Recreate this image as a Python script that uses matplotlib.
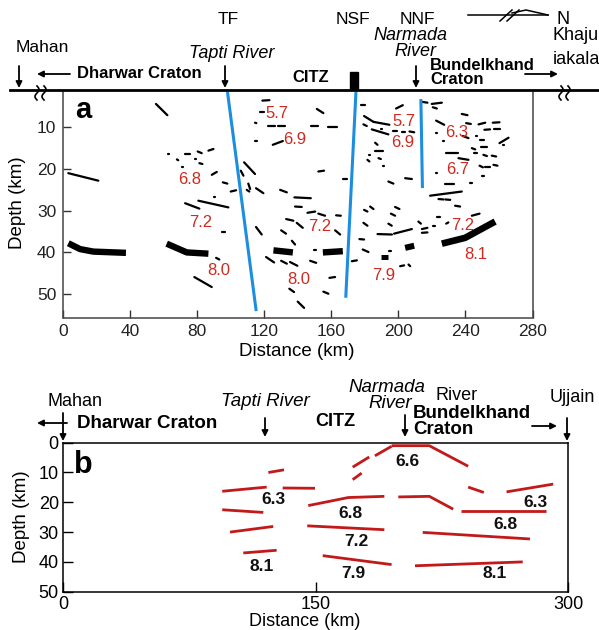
import matplotlib
matplotlib.use('Agg')
import matplotlib.pyplot as plt
from matplotlib.lines import Line2D
from matplotlib.patches import Rectangle, FancyArrowPatch
import numpy as np

plt.rcParams['font.family'] = ['Liberation Sans', 'DejaVu Sans']

# ---------------- data: panel a ----------------
a_xticks = [0, 40, 80, 120, 160, 200, 240, 280]
a_yticks = [10, 20, 30, 40, 50]

fault_top_x = [98.1, 174.6, 213.4]
fault_top_d = [1.9, 1.9, 3.6]
fault_bot_x = [115.0, 168.6, 214.3]
fault_bot_d = [53.7, 50.5, 24.2]

a_vel_labels = ['5.7', '6.9', '6.8', '7.2', '8.0', '8.0', '7.2',
                '5.7', '6.9', '6.3', '6.7', '7.2', '8.1', '7.9']
a_vel_x = [127.4, 138.3, 75.2, 82.0, 92.5, 140.3, 153.3,
           203.4, 202.6, 234.9, 235.2, 238.4, 246.4, 191.0]
a_vel_d = [6.8, 13.0, 22.4, 32.8, 44.3, 46.5, 33.8,
           8.7, 13.7, 11.3, 20.0, 33.6, 40.5, 45.5]

# thin reflector segments (x1, d1, x2, d2) in km
a_reflectors = [
    (55.3, 4.4, 62.1, 7.1), (3.0, 21.0, 20.9, 22.8), (118.8, 3.6, 123.0, 3.5),
    (117.4, 6.3, 119.8, 6.3), (151.3, 5.6, 155.2, 6.6), (114.4, 8.9, 115.2, 9.0),
    (122.4, 9.6, 126.4, 9.6), (128.4, 9.6, 132.4, 9.6), (147.7, 9.6, 151.7, 9.6),
    (158.2, 10.0, 163.2, 10.0), (114.6, 13.3, 115.4, 13.3), (125.0, 14.2, 131.0, 13.3),
    (62.3, 16.4, 63.1, 16.4), (72.7, 16.4, 75.6, 16.4), (80.2, 15.8, 82.6, 16.2),
    (86.6, 15.6, 89.6, 15.2), (67.8, 17.7, 68.6, 17.9), (78.5, 17.6, 79.3, 17.6),
    (81.2, 18.6, 83.0, 18.8), (70.9, 19.6, 71.7, 19.6), (88.6, 21.4, 91.6, 20.7),
    (95.2, 23.2, 97.9, 23.5), (107.9, 18.4, 114.4, 21.2), (105.9, 20.4, 107.5, 21.6),
    (110.4, 23.5, 111.5, 24.8), (109.5, 25.0, 111.0, 25.4), (115.0, 24.6, 119.4, 25.8),
    (99.9, 25.4, 103.1, 25.1), (129.4, 25.0, 133.4, 25.6), (137.9, 26.8, 147.7, 27.0),
    (89.7, 26.8, 90.5, 26.8), (152.2, 20.6, 155.6, 20.4), (166.8, 22.4, 169.2, 22.4),
    (72.7, 28.2, 81.2, 29.5), (80.6, 27.6, 98.5, 29.2), (138.3, 29.0, 142.3, 29.1),
    (94.6, 35.1, 96.6, 35.1), (115.0, 33.9, 118.4, 35.7), (91.2, 41.3, 93.1, 41.7),
    (78.2, 45.9, 88.6, 48.3), (121.0, 41.1, 125.8, 42.4), (130.0, 42.0, 133.4, 42.7),
    (135.3, 42.3, 139.7, 43.2), (130.0, 34.7, 132.9, 35.5), (136.4, 37.2, 138.3, 38.1),
    (133.0, 32.0, 137.3, 32.4), (139.3, 32.9, 142.9, 34.1), (145.7, 30.5, 150.3, 30.2),
    (152.2, 30.7, 156.2, 31.2), (162.8, 31.1, 165.6, 31.2), (162.2, 34.7, 165.2, 35.7),
    (147.3, 42.0, 150.9, 42.5), (149.9, 39.3, 150.7, 39.3), (158.8, 46.1, 162.2, 45.9),
    (134.9, 48.7, 137.7, 49.5), (155.2, 49.4, 158.2, 49.9), (139.9, 51.8, 143.7, 53.3),
    (177.5, 4.7, 180.1, 4.7), (198.6, 5.5, 202.6, 4.7), (179.5, 7.3, 185.1, 8.7),
    (185.1, 8.7, 194.6, 9.4), (179.1, 9.3, 181.1, 9.7), (184.1, 10.5, 194.0, 11.7),
    (189.3, 10.3, 190.1, 10.3), (197.0, 11.0, 199.4, 11.0), (202.0, 11.2, 204.0, 11.2),
    (206.6, 11.0, 209.4, 11.2), (214.0, 3.9, 217.3, 4.1), (219.9, 4.4, 225.9, 4.1),
    (220.5, 5.2, 222.9, 5.5), (237.8, 6.8, 241.2, 7.1), (222.5, 8.4, 227.3, 9.4),
    (240.4, 9.0, 243.2, 9.2), (247.8, 9.3, 251.8, 8.9), (256.3, 8.9, 260.3, 8.8),
    (222.5, 11.3, 223.3, 11.3), (238.4, 12.1, 241.8, 12.6), (251.3, 10.6, 254.7, 10.5),
    (257.3, 10.5, 260.7, 10.5), (246.0, 12.1, 246.8, 12.1), (248.8, 13.0, 251.2, 13.0),
    (260.3, 13.8, 265.7, 12.5), (226.5, 13.4, 227.3, 13.4), (243.8, 15.0, 245.8, 15.3),
    (249.4, 14.8, 252.8, 14.8), (262.3, 14.2, 263.1, 14.2), (228.5, 16.2, 235.8, 16.2),
    (235.8, 17.4, 241.8, 17.8), (244.8, 16.2, 246.8, 16.2), (250.7, 16.6, 252.8, 16.9),
    (255.7, 16.8, 258.3, 17.0), (248.4, 19.2, 250.4, 19.6), (251.8, 19.6, 254.7, 19.6),
    (256.7, 19.0, 259.1, 19.2), (250.0, 21.6, 250.8, 21.6), (222.5, 21.0, 223.3, 21.0),
    (242.8, 23.4, 243.6, 23.4), (227.9, 23.6, 233.3, 23.6), (218.9, 26.4, 237.8, 25.4),
    (223.9, 27.2, 226.9, 27.3), (228.0, 27.3, 230.9, 27.4), (233.8, 28.8, 236.8, 29.0),
    (186.1, 13.7, 187.5, 14.2), (186.1, 15.7, 190.7, 15.7), (182.3, 16.6, 183.1, 16.6),
    (181.5, 17.8, 182.7, 18.2), (188.1, 17.4, 189.5, 17.6), (190.6, 19.2, 191.4, 19.2),
    (194.0, 23.0, 197.0, 23.5), (204.0, 22.2, 208.0, 22.4), (183.1, 29.0, 185.1, 29.6),
    (198.0, 29.1, 200.6, 29.6), (179.5, 29.8, 181.5, 30.2), (195.5, 30.7, 198.0, 31.2),
    (179.1, 32.9, 181.5, 33.6), (194.0, 33.1, 196.0, 33.6), (187.5, 35.6, 196.1, 35.7),
    (197.4, 35.5, 208.0, 34.4), (211.9, 32.6, 213.4, 33.1), (214.0, 34.4, 217.3, 34.1),
    (214.0, 35.3, 217.3, 35.2), (220.5, 33.6, 221.9, 33.6), (222.9, 31.5, 224.9, 31.5),
    (228.5, 33.1, 229.8, 32.8), (243.8, 31.2, 248.4, 30.7), (176.7, 36.8, 179.5, 36.9),
    (178.7, 39.3, 182.1, 39.9), (194.6, 39.7, 195.4, 39.7), (172.2, 42.1, 175.2, 41.9),
    (201.0, 43.3, 203.4, 43.1), (206.0, 42.9, 207.0, 43.3),
]

# thick Moho reflectors
moho_x = [[3.0, 10.0, 17.9, 37.4], [61.7, 73.7, 86.6], [125.4, 137.0],
          [154.9, 166.8], [189.5, 194.0], [204.0, 209.4], [225.9, 239.8, 257.7]]
moho_d = [[37.8, 39.2, 39.8, 40.1], [37.9, 40.0, 40.3], [39.5, 40.0],
          [40.0, 39.7], [41.0, 41.0], [38.9, 38.4], [37.9, 36.5, 32.6]]
moho_w = [4.6, 4.6, 4.6, 4.6, 3.6, 4.4, 4.8]

# ---------------- data: panel b ----------------
b_xticks = [0, 150, 300]
b_yticks = [0, 10, 20, 30, 40, 50]

b_lines_x = [
    [122.0, 131.3], [94.6, 121.0], [130.5, 149.7], [94.6, 119.0], [99.2, 124.9],
    [107.1, 126.9], [172.1, 177.4], [172.1, 181.9], [185.3, 195.2],
    [195.2, 217.6, 240.7], [240.7, 250.0], [263.5, 291.2],
    [145.7, 169.5, 190.9], [199.2, 217.6, 231.8], [236.2, 286.9],
    [145.1, 190.9], [213.7, 277.4], [154.3, 195.2], [209.1, 273.1],
]
b_lines_d = [
    [10.0, 9.1], [16.3, 14.9], [15.2, 15.3], [22.5, 23.4], [30.0, 28.1],
    [37.0, 36.1], [12.4, 10.2], [8.2, 4.8], [4.4, 1.2],
    [1.0, 1.0, 7.9], [14.9, 16.7], [16.5, 13.9],
    [21.1, 18.4, 18.0], [18.2, 18.0, 22.3], [23.0, 23.0],
    [27.9, 29.2], [30.1, 32.3], [37.9, 40.9], [41.3, 40.0],
]
b_vel_labels = ['6.3', '8.1', '6.6', '6.8', '7.2', '7.9', '6.3', '6.8', '8.1']
b_vel_x = [124.9, 118.0, 204.5, 170.9, 174.4, 172.4, 280.4, 263.1, 256.6]
b_vel_d = [19.1, 41.5, 6.3, 23.6, 33.1, 44.0, 20.0, 27.5, 44.0]

# ---------------- figure ----------------
W, H = 599, 630
fig = plt.figure(figsize=(W / 100, H / 100), dpi=100)

RED_TXT = '#cf2a1f'
RED_LN = '#c21a1a'
BLUE = '#1c8ee0'


def F(px, py):
    return (px / W, 1 - py / H)


def ftext(px, py, s, **kw):
    kw.setdefault('ha', 'center')
    kw.setdefault('va', 'center')
    fig.text(px / W, 1 - py / H, s, **kw)


def farrow(x0, y0, x1, y1):
    fig.add_artist(FancyArrowPatch(F(x0, y0), F(x1, y1), transform=fig.transFigure,
                                   arrowstyle='-|>', mutation_scale=9, lw=1.3,
                                   color='black', shrinkA=0, shrinkB=0))


def fline(xs, ys, **kw):
    xs = np.asarray(xs, float)
    ys = np.asarray(ys, float)
    fig.add_artist(Line2D(xs / W, 1 - ys / H, **kw))


def squiggle(px0, py0):
    t = np.linspace(0, 1, 40)
    for dx in (0, 7):
        fline(px0 + dx + 2.0 * np.sin(t * 2 * np.pi), py0 + t * 14,
              color='black', lw=1.2)


# ---------- panel a ----------
axa = fig.add_axes([63.3 / W, 1 - 317.5 / H, (532.5 - 63.3) / W, (317.5 - 91) / H])
axa.set_xlim(0, 280)
axa.set_ylim(55.6, 1.3)
axa.set_xticks(a_xticks)
axa.set_yticks(a_yticks)
axa.tick_params(direction='in', length=6, width=1, labelsize=12.5, pad=5, colors='#333333')
axa.tick_params(labelcolor='#222222')
for s in ['left', 'right', 'bottom']:
    axa.spines[s].set_color('#444444')
    axa.spines[s].set_linewidth(1.1)
axa.spines['top'].set_visible(False)

for x1, d1, x2, d2 in a_reflectors:
    axa.plot([x1, x2], [d1, d2], color='black', lw=1.6, solid_capstyle='round')
for xs, ds, w in zip(moho_x, moho_d, moho_w):
    axa.plot(xs, ds, color='black', lw=w, solid_capstyle='butt', solid_joinstyle='round')
for xt, dt, xb, db in zip(fault_top_x, fault_top_d, fault_bot_x, fault_bot_d):
    axa.plot([xt, xb], [dt, db], color=BLUE, lw=2.2)
for lab, x, d in zip(a_vel_labels, a_vel_x, a_vel_d):
    axa.text(x, d, lab, color=RED_TXT, fontsize=12, ha='center', va='center')
axa.text(0.043, 0.915, 'a', transform=axa.transAxes, fontsize=21, fontweight='bold',
         ha='center', va='center')

# surface line & breaks
fline([10, 599], [90, 90], color='black', lw=2.0)
squiggle(37, 86)
squiggle(561, 86)

ftext(18, 203, 'Depth (km)', rotation=90, fontsize=13.5)
ftext(297, 352, 'Distance (km)', fontsize=13.5)

# annotations above panel a
ftext(228, 20, 'TF', fontsize=12.5)
ftext(353, 20, 'NSF', fontsize=12.5)
ftext(417, 20, 'NNF', fontsize=12.5)
ftext(232, 53, 'Tapti River', fontsize=13, style='italic')
ftext(42, 47, 'Mahan', fontsize=12.5)
ftext(410, 36, 'Narmada', fontsize=13, style='italic')
ftext(415, 52, 'River', fontsize=13, style='italic')
ftext(77, 74, 'Dharwar Craton', fontsize=12, fontweight='bold', ha='left')
ftext(311, 78, 'CITZ', fontsize=12, fontweight='bold')
ftext(430, 66, 'Bundelkhand', fontsize=12, fontweight='bold', ha='left')
ftext(430, 80, 'Craton', fontsize=12, fontweight='bold', ha='left')
ftext(557, 20, 'N', fontsize=13, ha='left')
ftext(553, 36, 'Khaju', fontsize=13, ha='left')
ftext(553, 60, 'iakala', fontsize=13, ha='left')
farrow(19, 66, 19, 88)
farrow(225, 66, 225, 88)
farrow(416, 66, 416, 88)
farrow(70, 74, 37, 74)
farrow(525, 74, 558, 74)
fig.add_artist(Rectangle(F(350, 89), 8 / W, 17 / H, transform=fig.transFigure,
                         color='black'))
# north symbol
fline([468, 548], [15, 15], color='black', lw=1.1)
fline([500, 512], [21, 10], color='black', lw=1.1)
fline([507, 519], [21, 10], color='black', lw=1.1)
fline([512, 526, 548], [13, 10, 15], color='black', lw=1.1)

# ---------- panel b ----------
axb = fig.add_axes([63 / W, 1 - 591.7 / H, 505 / W, (591.7 - 442.7) / H])
axb.set_xlim(0, 300)
axb.set_ylim(50, 0)
axb.set_xticks(b_xticks)
axb.set_yticks(b_yticks)
axb.tick_params(direction='in', length=7, width=1, labelsize=13, pad=3)
for s in axb.spines.values():
    s.set_linewidth(1.1)
for xs, ds in zip(b_lines_x, b_lines_d):
    axb.plot(xs, ds, color=RED_LN, lw=2.0, solid_capstyle='butt')
for lab, x, d in zip(b_vel_labels, b_vel_x, b_vel_d):
    axb.text(x, d, lab, color='#111111', fontsize=12.5, fontweight='bold',
             ha='center', va='center')
axb.text(0.04, 0.85, 'b', transform=axb.transAxes, fontsize=22, fontweight='bold',
         ha='center', va='center')

ftext(22, 517, 'Depth (km)', rotation=90, fontsize=13.5)
ftext(305, 621, 'Distance (km)', fontsize=13)

ftext(75, 402, 'Mahan', fontsize=13)
ftext(77, 423, 'Dharwar Craton', fontsize=13.5, fontweight='bold', ha='left')
ftext(265, 402, 'Tapti River', fontsize=13.5, style='italic')
ftext(335, 422, 'CITZ', fontsize=13, fontweight='bold')
ftext(387, 387, 'Narmada', fontsize=13.5, style='italic')
ftext(390, 403, 'River', fontsize=13.5, style='italic')
ftext(457, 395, 'River', fontsize=13)
ftext(413, 413, 'Bundelkhand', fontsize=13.5, fontweight='bold', ha='left')
ftext(413, 430, 'Craton', fontsize=13.5, fontweight='bold', ha='left')
ftext(572, 398, 'Ujjain', fontsize=13)
farrow(67, 423, 37, 423)
farrow(63, 413, 63, 441)
farrow(265, 418, 265, 437)
farrow(405, 415, 405, 437)
farrow(532, 426, 557, 426)
farrow(567, 418, 567, 441)

fig.savefig('out.png', dpi=100)
